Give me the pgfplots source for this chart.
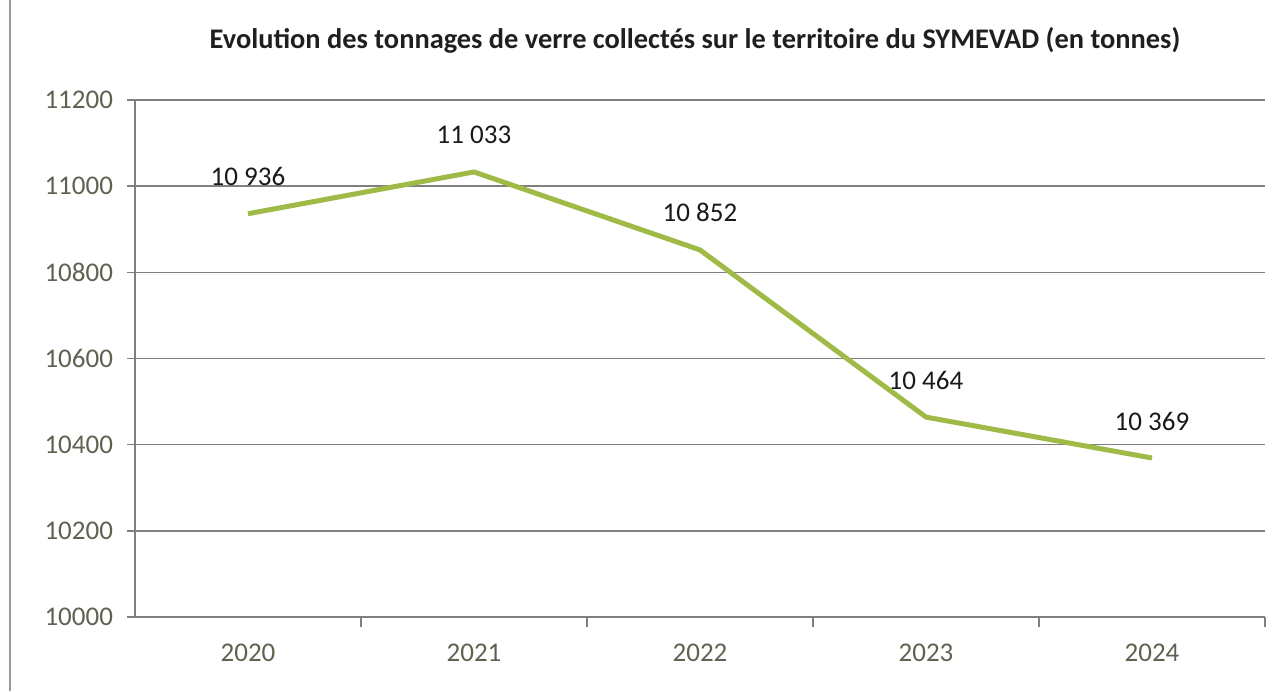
\documentclass[border=0pt]{standalone}
\usepackage{pgfplots}
\pgfplotsset{compat=1.18}
\usepackage{fontspec}
\setmainfont{Carlito}
\definecolor{linegreen}{RGB}{160,186,72}
\definecolor{gridgray}{RGB}{128,128,128}
\definecolor{ticktext}{RGB}{95,98,80}
\begin{document}
\begin{tikzpicture}
\useasboundingbox (0,0) rectangle (642pt,345.5pt);
% left frame line from the screenshot
\draw[gray!80, line width=1pt] (5pt,0) -- (5pt,345.5pt);
\node[font=\bfseries\fontsize{14.2}{17}\selectfont, text=black!88] at (347.5pt,325.5pt)
  {Evolution des tonnages de verre collectés sur le territoire du SYMEVAD (en tonnes)};
\begin{axis}[
    at={(67.5pt,37pt)}, anchor=south west,
    scale only axis,
    width=565pt, height=258.5pt,
    xmin=-0.5, xmax=4.5,
    ymin=10000, ymax=11200,
    ytick={10000,10200,...,11200},
    scaled y ticks=false,
    xtick={0,1,2,3,4},
    xticklabels={2020,2021,2022,2023,2024},
    minor xtick={0.5,1.5,2.5,3.5,4.5},
    axis lines=left,
    axis line style={-, gridgray, line width=0.75pt},
    ymajorgrids,
    grid style={gridgray, line width=0.75pt},
    major x tick style={draw=none},
    minor x tick style={gridgray, line width=0.75pt},
    minor tick length=5pt,
    major tick length=4pt,
    y tick style={gridgray, line width=0.75pt},
    tick align=outside,
    /pgf/number format/assume math mode=true,
    /pgf/number format/fixed,
    /pgf/number format/set thousands separator={},
    tick label style={font=\fontsize{13.5}{16}\selectfont, text=ticktext},
    yticklabel style={xshift=-3.5pt},
    xticklabel style={yshift=-6pt},
    clip=false,
]
\addplot[
    linegreen,
    line width=2.5pt,
    line join=round,
    mark=none,
    point meta=explicit symbolic,
    nodes near coords,
    every node near coord/.style={anchor=base, yshift=14pt, inner sep=0pt,
        font=\fontsize{13.5}{16}\selectfont, text=black!90},
] coordinates {
    (0,10936) [10 936]
    (1,11033) [11 033]
    (2,10852) [10 852]
    (3,10464) [10 464]
    (4,10369) [10 369]
};
\end{axis}
\end{tikzpicture}
\end{document}
